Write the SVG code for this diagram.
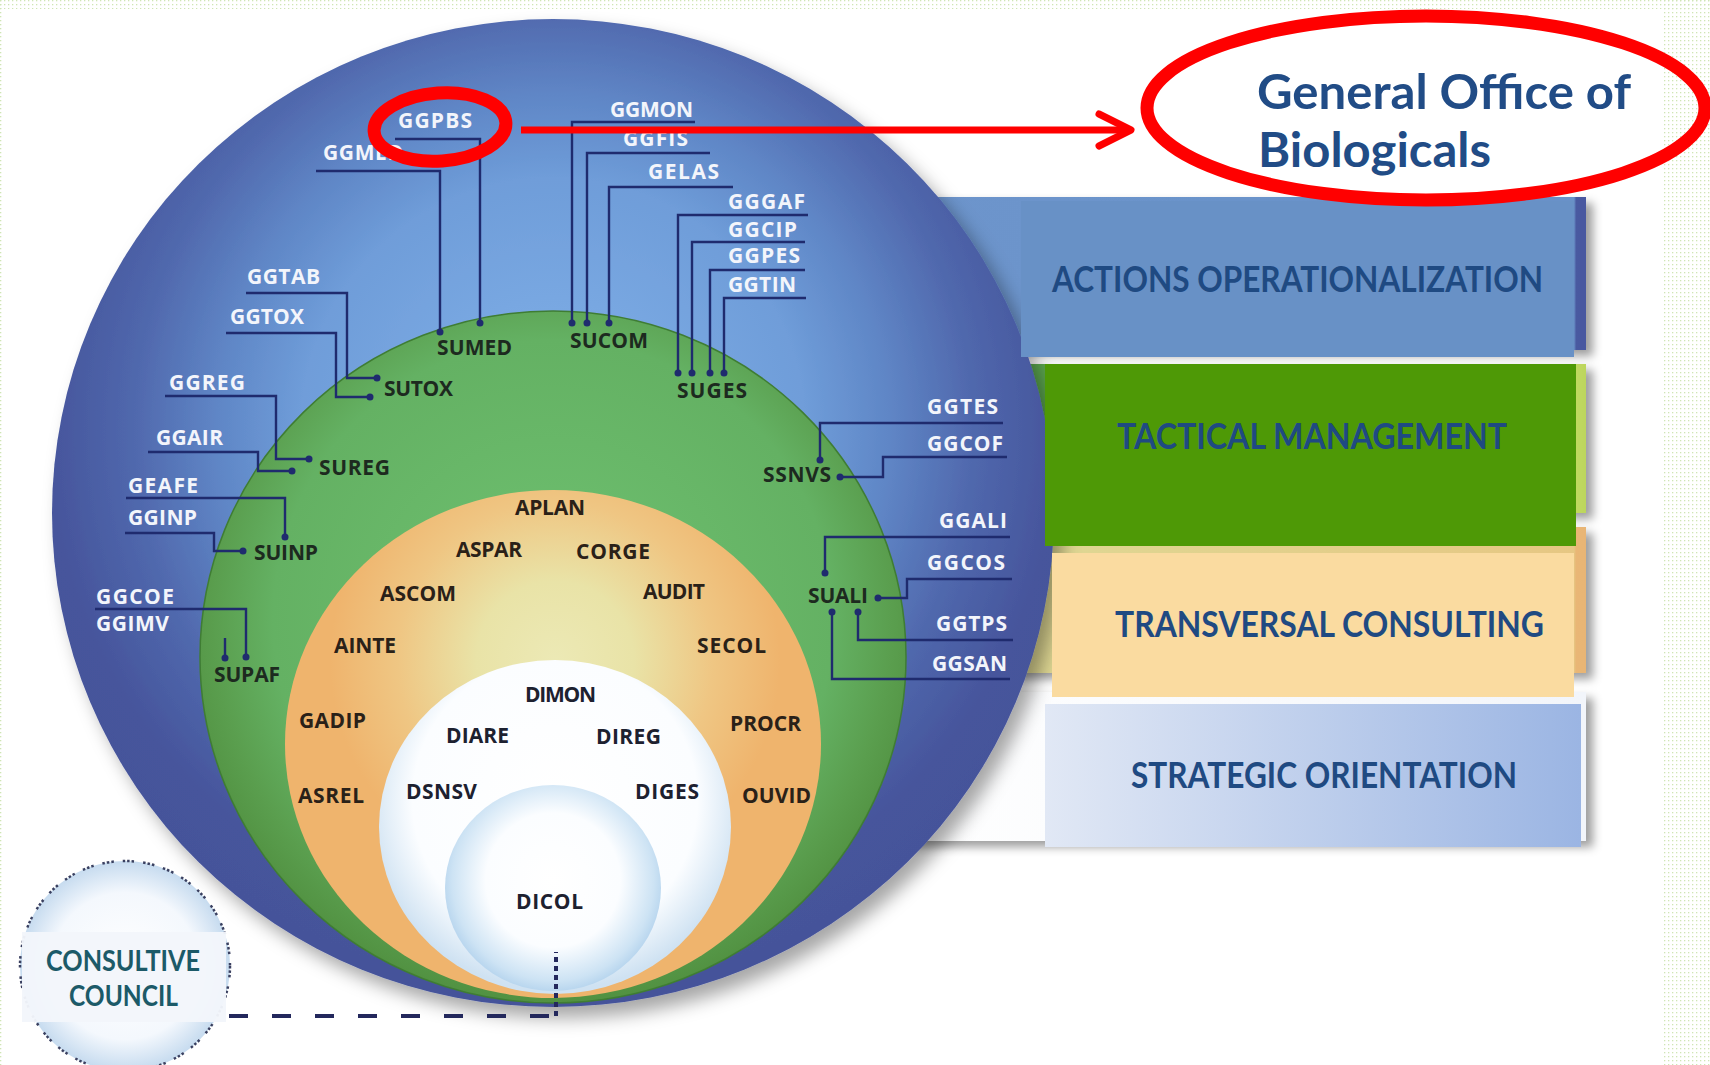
<svg xmlns="http://www.w3.org/2000/svg" width="1710" height="1065" viewBox="0 0 1710 1065">
<defs>
<style>
.lw{font-family:"Open Sans","Liberation Sans",sans-serif;font-weight:700;font-size:21px;fill:#f3f5fb}
.ld{font-family:"Open Sans","Liberation Sans",sans-serif;font-weight:700;font-size:21px;fill:#1d2a1f}
.lo{font-family:"Open Sans","Liberation Sans",sans-serif;font-weight:700;font-size:21px;fill:#2a2118}
.lb{font-family:"Open Sans","Liberation Sans",sans-serif;font-weight:700;font-size:21px;fill:#1d2130}
.conn{fill:none;stroke:#1f2b6e;stroke-width:2.4}
.dot{fill:#1f2b6e}
.title{font-family:Lato,"Liberation Sans",sans-serif;font-weight:700;font-size:36px;fill:#1f4a82}
.big{font-family:Lato,"Liberation Sans",sans-serif;font-weight:700;font-size:47px;fill:#214c86}
.cc{font-family:Lato,"Liberation Sans",sans-serif;font-weight:700;font-size:29px;fill:#1c5a68}
.red{fill:none;stroke:#ff0000}
</style>
<pattern id="dots" width="4" height="4" patternUnits="userSpaceOnUse"><rect width="1.3" height="1.3" fill="#cfe5b4"/></pattern>
<filter id="sh" x="-10%" y="-10%" width="125%" height="125%"><feDropShadow dx="9" dy="11" stdDeviation="9" flood-color="#000" flood-opacity="0.35"/></filter>
<filter id="sh2" x="-5%" y="-10%" width="115%" height="130%"><feDropShadow dx="7" dy="6" stdDeviation="5" flood-color="#000" flood-opacity="0.38"/></filter>
<radialGradient id="gBlue" gradientUnits="userSpaceOnUse" cx="553" cy="430" r="560">
<stop offset="0" stop-color="#82b2ea"/><stop offset="0.45" stop-color="#6f9dd9"/><stop offset="0.6" stop-color="#5f86c6"/><stop offset="0.75" stop-color="#5068ad"/><stop offset="0.9" stop-color="#46559c"/><stop offset="1" stop-color="#45539a"/>
</radialGradient>
<radialGradient id="gGreen" gradientUnits="userSpaceOnUse" cx="553" cy="620" r="400">
<stop offset="0" stop-color="#6fc271"/><stop offset="0.7" stop-color="#64b163"/><stop offset="0.85" stop-color="#5a9e4e"/><stop offset="1" stop-color="#4e8c3c"/>
</radialGradient>
<radialGradient id="gOrange" gradientUnits="userSpaceOnUse" cx="555" cy="660" r="225">
<stop offset="0" stop-color="#ece9b5"/><stop offset="0.35" stop-color="#e9e3a7"/><stop offset="0.7" stop-color="#efc683"/><stop offset="1" stop-color="#efb46d"/>
</radialGradient>
<radialGradient id="gWhite" gradientUnits="userSpaceOnUse" cx="555" cy="800" r="190">
<stop offset="0" stop-color="#ffffff"/><stop offset="0.75" stop-color="#fbfdff"/><stop offset="1" stop-color="#cfe2f2"/>
</radialGradient>
<radialGradient id="gDicol" gradientUnits="userSpaceOnUse" cx="553" cy="880" r="112">
<stop offset="0" stop-color="#ffffff"/><stop offset="0.6" stop-color="#fbfdff"/><stop offset="0.9" stop-color="#cde3f4"/><stop offset="1" stop-color="#b7d5ee"/>
</radialGradient>
<radialGradient id="gCC" cx="0.5" cy="0.5" r="0.5">
<stop offset="0" stop-color="#ffffff"/><stop offset="0.7" stop-color="#f4f8fd"/><stop offset="1" stop-color="#c6dbef"/>
</radialGradient>
<linearGradient id="bBlue" x1="0" x2="1" y1="0" y2="0"><stop offset="0" stop-color="#6d95cc"/><stop offset="0.983" stop-color="#6991c8"/><stop offset="0.986" stop-color="#4a5aa0"/><stop offset="1" stop-color="#4a58a0"/></linearGradient>
<linearGradient id="bGreen" x1="0" x2="1" y1="0" y2="0"><stop offset="0" stop-color="#5aa34e"/><stop offset="0.983" stop-color="#5aa34e"/><stop offset="0.986" stop-color="#c0d860"/><stop offset="1" stop-color="#bcd65c"/></linearGradient>
<linearGradient id="bOrange" x1="0" x2="1" y1="0" y2="0"><stop offset="0" stop-color="#dcdc98"/><stop offset="0.983" stop-color="#e6c783"/><stop offset="0.986" stop-color="#e9b674"/><stop offset="1" stop-color="#e8b574"/></linearGradient>
<linearGradient id="bWhite" x1="0" x2="1" y1="0" y2="0"><stop offset="0" stop-color="#ffffff"/><stop offset="1" stop-color="#f2f5fa"/></linearGradient>
<linearGradient id="gStrat" x1="0" x2="1" y1="0" y2="0"><stop offset="0" stop-color="#e1e8f5"/><stop offset="1" stop-color="#9bb5e3"/></linearGradient>
</defs>

<rect width="1710" height="1065" fill="#ffffff"/>
<rect x="0" y="0" width="1710" height="9" fill="url(#dots)"/>
<rect x="1664" y="0" width="46" height="1065" fill="url(#dots)"/>
<rect x="0" y="0" width="3" height="1065" fill="url(#dots)"/>

<g id="band-backings" filter="url(#sh2)">
<rect x="880" y="197" width="706" height="153" fill="url(#bBlue)"/>
<rect x="880" y="364" width="706" height="149" fill="url(#bGreen)"/>
<rect x="880" y="527" width="706" height="146" fill="url(#bOrange)"/>
<rect x="880" y="692" width="706" height="149" fill="url(#bWhite)"/>
</g>

<g id="ring-blue">
<ellipse cx="553" cy="513" rx="501" ry="494" fill="url(#gBlue)" filter="url(#sh)"/>
</g>
<g id="ring-green">
<ellipse cx="553" cy="657" rx="353" ry="346" fill="url(#gGreen)" stroke="#3f7d33" stroke-width="1.5"/>
</g>
<g id="ring-orange">
<ellipse cx="553" cy="744" rx="268" ry="254" fill="url(#gOrange)"/>
</g>
<g id="ring-white">
<ellipse cx="555" cy="827" rx="176" ry="167" fill="url(#gWhite)"/>
</g>
<g id="ring-dicol">
<ellipse cx="553" cy="888" rx="108" ry="103" fill="url(#gDicol)"/>
</g>

<g id="connectors">
<path class="conn" d="M395,139 H480 V323"/><circle class="dot" cx="480" cy="323" r="3.5"/>
<path class="conn" d="M316,171 H440 V332"/><circle class="dot" cx="440" cy="332" r="3.5"/>
<path class="conn" d="M695,122 H572 V323"/><circle class="dot" cx="572" cy="323" r="3.5"/>
<path class="conn" d="M710,153 H587 V323"/><circle class="dot" cx="587" cy="323" r="3.5"/>
<path class="conn" d="M733,187 H609 V323"/><circle class="dot" cx="609" cy="323" r="3.5"/>
<path class="conn" d="M808,215 H678 V373"/><circle class="dot" cx="678" cy="373" r="3.5"/>
<path class="conn" d="M805,242 H692 V373"/><circle class="dot" cx="692" cy="373" r="3.5"/>
<path class="conn" d="M805,270 H710 V373"/><circle class="dot" cx="710" cy="373" r="3.5"/>
<path class="conn" d="M806,298 H724 V373"/><circle class="dot" cx="724" cy="373" r="3.5"/>
<path class="conn" d="M246,293 H347 V378 H377"/><circle class="dot" cx="377" cy="378" r="3.5"/>
<path class="conn" d="M226,333 H336 V397 H370"/><circle class="dot" cx="370" cy="397" r="3.5"/>
<path class="conn" d="M165,396 H276 V459 H309"/><circle class="dot" cx="309" cy="459" r="3.5"/>
<path class="conn" d="M148,452 H258 V471 H292"/><circle class="dot" cx="292" cy="471" r="3.5"/>
<path class="conn" d="M126,498 H285 V537"/><circle class="dot" cx="285" cy="537" r="3.5"/>
<path class="conn" d="M125,533 H214 V551 H243"/><circle class="dot" cx="243" cy="551" r="3.5"/>
<path class="conn" d="M95,609 H246 V657"/><circle class="dot" cx="246" cy="657" r="3.5"/>
<path class="conn" d="M225,638 V658"/><circle class="dot" cx="225" cy="658" r="3.5"/>
<path class="conn" d="M1003,423 H820 V460"/><circle class="dot" cx="820" cy="460" r="3.5"/>
<path class="conn" d="M1007,457 H883 V477 H840"/><circle class="dot" cx="840" cy="477" r="3.5"/>
<path class="conn" d="M1010,537 H825 V573"/><circle class="dot" cx="825" cy="573" r="3.5"/>
<path class="conn" d="M1012,579 H907 V598 H878"/><circle class="dot" cx="878" cy="598" r="3.5"/>
<path class="conn" d="M1013,640 H858 V612"/><circle class="dot" cx="858" cy="612" r="3.5"/>
<path class="conn" d="M1010,679 H832 V612"/><circle class="dot" cx="832" cy="612" r="3.5"/>
<path fill="none" stroke="#23285c" stroke-width="4" stroke-dasharray="19 24" d="M229,1016 H556"/>
<path fill="none" stroke="#23285c" stroke-width="4" stroke-dasharray="5 4" d="M556,1016 V952"/>
</g>

<g id="outer-labels">
<g id="n-GGPBS"><text class="lw" x="398" y="128" textLength="74">GGPBS</text></g>
<g id="n-GGMED"><text class="lw" x="323" y="160" textLength="80">GGMED</text></g>
<g id="n-GGMON"><text class="lw" x="610" y="117" textLength="83">GGMON</text></g>
<g id="n-GGFIS"><text class="lw" x="623" y="146" textLength="65">GGFIS</text></g>
<g id="n-GELAS"><text class="lw" x="648" y="179" textLength="71">GELAS</text></g>
<g id="n-GGGAF"><text class="lw" x="728" y="209" textLength="77">GGGAF</text></g>
<g id="n-GGCIP"><text class="lw" x="728" y="237" textLength="69">GGCIP</text></g>
<g id="n-GGPES"><text class="lw" x="728" y="263" textLength="72">GGPES</text></g>
<g id="n-GGTIN"><text class="lw" x="728" y="292" textLength="68">GGTIN</text></g>
<g id="n-GGTAB"><text class="lw" x="247" y="284" textLength="73">GGTAB</text></g>
<g id="n-GGTOX"><text class="lw" x="230" y="324" textLength="74">GGTOX</text></g>
<g id="n-GGREG"><text class="lw" x="169" y="390" textLength="76">GGREG</text></g>
<g id="n-GGAIR"><text class="lw" x="156" y="445" textLength="67">GGAIR</text></g>
<g id="n-GEAFE"><text class="lw" x="128" y="493" textLength="70">GEAFE</text></g>
<g id="n-GGINP"><text class="lw" x="128" y="525" textLength="69">GGINP</text></g>
<g id="n-GGCOE"><text class="lw" x="96" y="604" textLength="78">GGCOE</text></g>
<g id="n-GGIMV"><text class="lw" x="96" y="631" textLength="73">GGIMV</text></g>
<g id="n-GGTES"><text class="lw" x="927" y="414" textLength="71">GGTES</text></g>
<g id="n-GGCOF"><text class="lw" x="927" y="451" textLength="76">GGCOF</text></g>
<g id="n-GGALI"><text class="lw" x="939" y="528" textLength="68">GGALI</text></g>
<g id="n-GGCOS"><text class="lw" x="927" y="570" textLength="78">GGCOS</text></g>
<g id="n-GGTPS"><text class="lw" x="936" y="631" textLength="71">GGTPS</text></g>
<g id="n-GGSAN"><text class="lw" x="932" y="671" textLength="75">GGSAN</text></g>
</g>

<g id="green-labels">
<g id="n-SUMED"><text class="ld" x="437" y="355" textLength="75">SUMED</text></g>
<g id="n-SUCOM"><text class="ld" x="570" y="348" textLength="78">SUCOM</text></g>
<g id="n-SUGES"><text class="ld" x="677" y="398" textLength="70">SUGES</text></g>
<g id="n-SUTOX"><text class="ld" x="384" y="396" textLength="69">SUTOX</text></g>
<g id="n-SUREG"><text class="ld" x="319" y="475" textLength="71">SUREG</text></g>
<g id="n-SUINP"><text class="ld" x="254" y="560" textLength="64">SUINP</text></g>
<g id="n-SUPAF"><text class="ld" x="214" y="682" textLength="66">SUPAF</text></g>
<g id="n-SSNVS"><text class="ld" x="763" y="482" textLength="68">SSNVS</text></g>
<g id="n-SUALI"><text class="ld" x="808" y="603" textLength="60">SUALI</text></g>
</g>

<g id="orange-labels">
<g id="n-APLAN"><text class="lo" x="515" y="515" textLength="70">APLAN</text></g>
<g id="n-ASPAR"><text class="lo" x="456" y="557" textLength="66">ASPAR</text></g>
<g id="n-CORGE"><text class="lo" x="576" y="559" textLength="74">CORGE</text></g>
<g id="n-ASCOM"><text class="lo" x="380" y="601" textLength="76">ASCOM</text></g>
<g id="n-AUDIT"><text class="lo" x="643" y="599" textLength="62">AUDIT</text></g>
<g id="n-AINTE"><text class="lo" x="334" y="653" textLength="62">AINTE</text></g>
<g id="n-SECOL"><text class="lo" x="697" y="653" textLength="69">SECOL</text></g>
<g id="n-GADIP"><text class="lo" x="299" y="728" textLength="67">GADIP</text></g>
<g id="n-PROCR"><text class="lo" x="730" y="731" textLength="71">PROCR</text></g>
<g id="n-ASREL"><text class="lo" x="298" y="803" textLength="66">ASREL</text></g>
<g id="n-OUVID"><text class="lo" x="742" y="803" textLength="69">OUVID</text></g>
</g>

<g id="white-labels">
<g id="n-DIMON"><text class="lb" x="525" y="702" textLength="71">DIMON</text></g>
<g id="n-DIARE"><text class="lb" x="446" y="743" textLength="63">DIARE</text></g>
<g id="n-DIREG"><text class="lb" x="596" y="744" textLength="65">DIREG</text></g>
<g id="n-DSNSV"><text class="lb" x="406" y="799" textLength="71">DSNSV</text></g>
<g id="n-DIGES"><text class="lb" x="635" y="799" textLength="64">DIGES</text></g>
<g id="n-DICOL"><text class="lb" x="516" y="909" textLength="67">DICOL</text></g>
</g>

<g id="box-actions">
<rect x="1021" y="201" width="553" height="156" fill="#6891c6"/>
<text class="title" x="1052" y="292" textLength="491" lengthAdjust="spacingAndGlyphs">ACTIONS OPERATIONALIZATION</text>
</g>
<g id="box-tactical">
<rect x="1045" y="364" width="531" height="182" fill="#4e9906"/>
<text class="title" x="1117" y="449" textLength="390" lengthAdjust="spacingAndGlyphs">TACTICAL MANAGEMENT</text>
</g>
<g id="box-transversal">
<rect x="1052" y="553" width="522" height="144" fill="#fadba0"/>
<text class="title" x="1115" y="637" textLength="429" lengthAdjust="spacingAndGlyphs">TRANSVERSAL CONSULTING</text>
</g>
<g id="box-strategic">
<rect x="1045" y="704" width="536" height="143" fill="url(#gStrat)"/>
<text class="title" x="1131" y="788" textLength="386" lengthAdjust="spacingAndGlyphs">STRATEGIC ORIENTATION</text>
</g>

<g id="highlight">
<ellipse class="red" cx="440" cy="127" rx="66" ry="34" stroke-width="13" transform="rotate(-4 440 127)"/>
<path class="red" d="M521,130 H1128" stroke-width="7"/>
<path class="red" d="M1099,114 L1131,130 L1099,146" stroke-width="7" stroke-linecap="round" stroke-linejoin="round"/>
</g>
<g id="n-biologicals">
<ellipse class="red" cx="1426" cy="108" rx="279" ry="92" stroke-width="13"/>
<text class="big" x="1257" y="109" textLength="374" lengthAdjust="spacingAndGlyphs">General Office of</text>
<text class="big" x="1258" y="167" textLength="233" lengthAdjust="spacingAndGlyphs">Biologicals</text>
</g>

<g id="n-consultive">
<circle cx="125" cy="966" r="105" fill="url(#gCC)" stroke="#3a4060" stroke-width="2.5" stroke-dasharray="2.5 2 2.5 2 2.5 9"/>
<rect x="22" y="932" width="204" height="90" fill="#f3f6fb" opacity="0.96"/>
<text class="cc" x="46" y="971" textLength="154" lengthAdjust="spacingAndGlyphs">CONSULTIVE</text>
<text class="cc" x="69" y="1006" textLength="109" lengthAdjust="spacingAndGlyphs">COUNCIL</text>
</g>
</svg>
